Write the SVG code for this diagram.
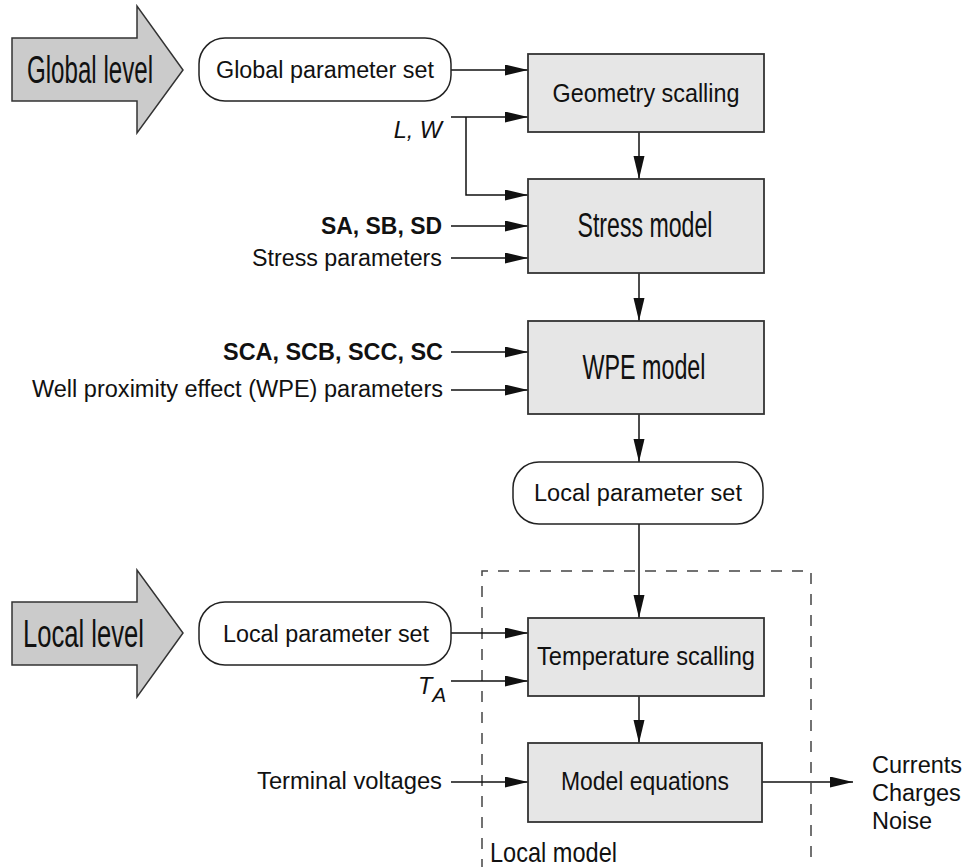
<svg xmlns="http://www.w3.org/2000/svg" width="969" height="867" viewBox="0 0 969 867">
<defs>
<style>
text{font-family:"Liberation Sans",Arial,sans-serif;fill:#111;}
.lbl{font-size:23.5px;}
.b{font-weight:bold;}
.i{font-style:italic;}
.box{fill:#e6e6e6;stroke:#333;stroke-width:1.8;}
.pill{fill:#fff;stroke:#222;stroke-width:1.5;}
.big{fill:#cbcbcb;stroke:#333;stroke-width:1.5;}
.c{fill:none;stroke:#111;stroke-width:1.5;}
.dash{fill:none;stroke:#444;stroke-width:1.5;stroke-dasharray:11 10;}
</style>
<marker id="ah" markerUnits="userSpaceOnUse" markerWidth="24" markerHeight="12" refX="23" refY="5.5" orient="auto">
<path d="M0,0 L23,5.5 L0,11 z" fill="#111"/>
</marker>
</defs>
<rect width="969" height="867" fill="#fff"/>

<g id="local-model-frame">
<path class="dash" d="M482,870 L482,571 L811,571 L811,870"/>
<text x="490" y="862" font-size="28" textLength="127" lengthAdjust="spacingAndGlyphs">Local model</text>
</g>

<g id="connectors">
<line class="c" x1="451" y1="70" x2="528" y2="70" marker-end="url(#ah)"/>
<line class="c" x1="451" y1="117" x2="528" y2="117" marker-end="url(#ah)"/>
<polyline class="c" points="466,117 466,195 528,195" marker-end="url(#ah)"/>
<line class="c" x1="451" y1="226" x2="528" y2="226" marker-end="url(#ah)"/>
<line class="c" x1="451" y1="258" x2="528" y2="258" marker-end="url(#ah)"/>
<line class="c" x1="639" y1="132" x2="639" y2="179" marker-end="url(#ah)"/>
<line class="c" x1="639" y1="273" x2="639" y2="321" marker-end="url(#ah)"/>
<line class="c" x1="451" y1="352" x2="528" y2="352" marker-end="url(#ah)"/>
<line class="c" x1="451" y1="390" x2="528" y2="390" marker-end="url(#ah)"/>
<line class="c" x1="639" y1="414" x2="639" y2="462" marker-end="url(#ah)"/>
<line class="c" x1="639" y1="524" x2="639" y2="618" marker-end="url(#ah)"/>
<line class="c" x1="451" y1="633" x2="528" y2="633" marker-end="url(#ah)"/>
<line class="c" x1="451" y1="681" x2="528" y2="681" marker-end="url(#ah)"/>
<line class="c" x1="639" y1="696" x2="639" y2="743" marker-end="url(#ah)"/>
<line class="c" x1="451" y1="782" x2="528" y2="782" marker-end="url(#ah)"/>
<line class="c" x1="762" y1="782" x2="853" y2="782" marker-end="url(#ah)"/>
</g>

<g id="global-level">
<polygon class="big" points="12,38 137,38 137,6 183,70 137,133 137,101 12,101"/>
<text x="27" y="83" font-size="38" textLength="126" lengthAdjust="spacingAndGlyphs">Global level</text>
</g>
<g id="global-parameter-set">
<rect class="pill" x="199" y="38" width="252" height="63" rx="26" ry="26"/>
<text class="lbl" x="325" y="78" text-anchor="middle" textLength="218" lengthAdjust="spacingAndGlyphs">Global parameter set</text>
</g>
<g id="geometry-scalling">
<rect class="box" x="528" y="54" width="236" height="78"/>
<text x="646" y="102" font-size="25" text-anchor="middle" textLength="187" lengthAdjust="spacingAndGlyphs">Geometry scalling</text>
</g>
<g id="stress-model">
<rect class="box" x="528" y="179" width="236" height="94"/>
<text x="645" y="237" font-size="35" text-anchor="middle" textLength="135" lengthAdjust="spacingAndGlyphs">Stress model</text>
</g>
<g id="wpe-model">
<rect class="box" x="528" y="321" width="236" height="93"/>
<text x="644" y="379" font-size="35" text-anchor="middle" textLength="123" lengthAdjust="spacingAndGlyphs">WPE model</text>
</g>
<g id="local-parameter-set-mid">
<rect class="pill" x="513" y="462" width="250" height="62" rx="26" ry="26"/>
<text class="lbl" x="638" y="501" text-anchor="middle" textLength="208" lengthAdjust="spacingAndGlyphs">Local parameter set</text>
</g>
<g id="local-level">
<polygon class="big" points="12,602 137,602 137,570 183,633 137,697 137,665 12,665"/>
<text x="23" y="647" font-size="38" textLength="121" lengthAdjust="spacingAndGlyphs">Local level</text>
</g>
<g id="local-parameter-set-left">
<rect class="pill" x="199" y="602" width="252" height="63" rx="26" ry="26"/>
<text class="lbl" x="326" y="642" text-anchor="middle" textLength="206" lengthAdjust="spacingAndGlyphs">Local parameter set</text>
</g>
<g id="temperature-scalling">
<rect class="box" x="528" y="618" width="236" height="78"/>
<text x="646" y="665" font-size="25" text-anchor="middle" textLength="218" lengthAdjust="spacingAndGlyphs">Temperature scalling</text>
</g>
<g id="model-equations">
<rect class="box" x="528" y="743" width="234" height="79"/>
<text x="645" y="790" font-size="25" text-anchor="middle" textLength="168" lengthAdjust="spacingAndGlyphs">Model equations</text>
</g>

<g id="input-labels">
<text class="lbl i" x="442" y="138" text-anchor="end">L, W</text>
<text class="lbl b" x="442" y="234" text-anchor="end" textLength="121" lengthAdjust="spacingAndGlyphs">SA, SB, SD</text>
<text class="lbl" x="442" y="266" text-anchor="end" textLength="190" lengthAdjust="spacingAndGlyphs">Stress parameters</text>
<text class="lbl b" x="443" y="360" text-anchor="end" textLength="220" lengthAdjust="spacingAndGlyphs">SCA, SCB, SCC, SC</text>
<text class="lbl" x="443" y="397" text-anchor="end" textLength="411" lengthAdjust="spacingAndGlyphs">Well proximity effect (WPE) parameters</text>
<text class="lbl i" x="418" y="694">T<tspan font-size="21" dy="8">A</tspan></text>
<text class="lbl" x="442" y="789" text-anchor="end" textLength="185" lengthAdjust="spacingAndGlyphs">Terminal voltages</text>
</g>
<g id="outputs">
<text class="lbl" x="872" y="773">Currents</text>
<text class="lbl" x="872" y="801">Charges</text>
<text class="lbl" x="872" y="829">Noise</text>
</g>
</svg>
